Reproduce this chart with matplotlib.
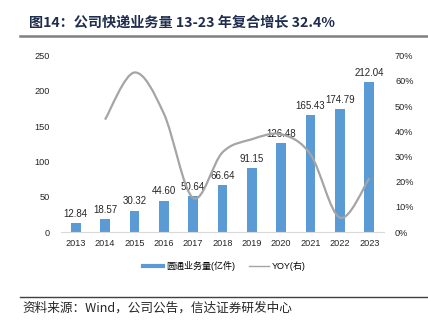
import matplotlib
matplotlib.use("Agg")
import matplotlib.pyplot as plt
from matplotlib.path import Path
from matplotlib.patches import PathPatch
from matplotlib.lines import Line2D
import numpy as np

years = ["2013", "2014", "2015", "2016", "2017", "2018", "2019", "2020", "2021", "2022", "2023"]
volume = [12.84, 18.57, 30.32, 44.60, 50.64, 66.64, 91.15, 126.48, 165.43, 174.79, 212.04]
yoy = [None, 44.6, 63.3, 47.1, 13.5, 31.6, 36.8, 38.8, 30.8, 5.7, 21.3]
left_ticks = [0, 50, 100, 150, 200, 250]
right_ticks = [0, 10, 20, 30, 40, 50, 60, 70]

bar_color = "#5b9bd5"
line_color = "#a5a5a5"
plt.rcParams["font.family"] = ["Liberation Sans", "Noto Sans CJK SC"]

fig = plt.figure(figsize=(4.28, 3.31), dpi=100)
ax = fig.add_axes([0.1425, 0.299, 0.7545, 0.533])
x = np.arange(len(years))
ax.bar(x, volume, width=0.33, color=bar_color, zorder=2)
for xi, v in zip(x, volume):
    ax.annotate("%.2f" % v, (xi, v), xytext=(0, 3), textcoords="offset points",
                ha="center", va="bottom", fontsize=7, color="#262626", zorder=5)
ax.set_xlim(-0.5, 10.5)
ax.set_ylim(0, 250)
ax.set_yticks(left_ticks)
ax.set_xticks(x)
ax.set_xticklabels(years)
ax.tick_params(length=0, labelsize=6.6, colors="#262626", pad=5)
ax.tick_params(axis="y", pad=8)
for s in ["top", "right", "left"]:
    ax.spines[s].set_visible(False)
ax.spines["bottom"].set_color("#d9d9d9")

ax2 = ax.twinx()
ax2.set_ylim(0, 70)
ax2.set_yticks(right_ticks)
ax2.set_yticklabels(["%d%%" % t for t in right_ticks])
ax2.tick_params(length=0, labelsize=6.6, colors="#262626", pad=8)
for s in ax2.spines.values():
    s.set_visible(False)

# smoothed line (Catmull-Rom as bezier segments, like Excel's smooth line)
px = [xi for xi, v in zip(x, yoy) if v is not None]
py = [v for v in yoy if v is not None]
pts = np.column_stack([px, py]).astype(float)
verts = [tuple(pts[0])]
codes = [Path.MOVETO]
n = len(pts)
for i in range(n - 1):
    p0 = pts[i - 1] if i > 0 else pts[i]
    p1 = pts[i]
    p2 = pts[i + 1]
    p3 = pts[i + 2] if i + 2 < n else pts[i + 1]
    c1 = p1 + (p2 - p0) / 6.0
    c2 = p2 - (p3 - p1) / 6.0
    verts += [tuple(c1), tuple(c2), tuple(p2)]
    codes += [Path.CURVE4] * 3
ax2.add_patch(PathPatch(Path(verts, codes), facecolor="none", edgecolor=line_color,
                        lw=1.6, zorder=3))

handles = [Line2D([], [], color=bar_color, lw=3),
           Line2D([], [], color=line_color, lw=1)]
fig.legend(handles, ["圆通业务量(亿件)", "YOY(右)"], loc="center",
           bbox_to_anchor=(0.525, 0.196), ncol=2, frameon=False, fontsize=6.5,
           handlelength=2.2, handletextpad=0.3, columnspacing=1.6)

fig.text(0.068, 0.933, "图14：公司快递业务量 13-23 年复合增长 32.4%", fontsize=10.2,
         fontweight="bold", color="#1f2d4f", va="center", family=["Noto Sans CJK SC"])
fig.add_artist(Line2D([0.047, 1.0], [0.891, 0.891], color="#808080", lw=1.8))
fig.add_artist(Line2D([0.047, 1.0], [0.103, 0.103], color="#404040", lw=1.0))
fig.text(0.052, 0.069, "资料来源：Wind，公司公告，信达证券研发中心", fontsize=9.1,
         style="italic", color="#262626", va="center", family=["Noto Sans CJK SC"])

fig.savefig("out.png", dpi=100)
